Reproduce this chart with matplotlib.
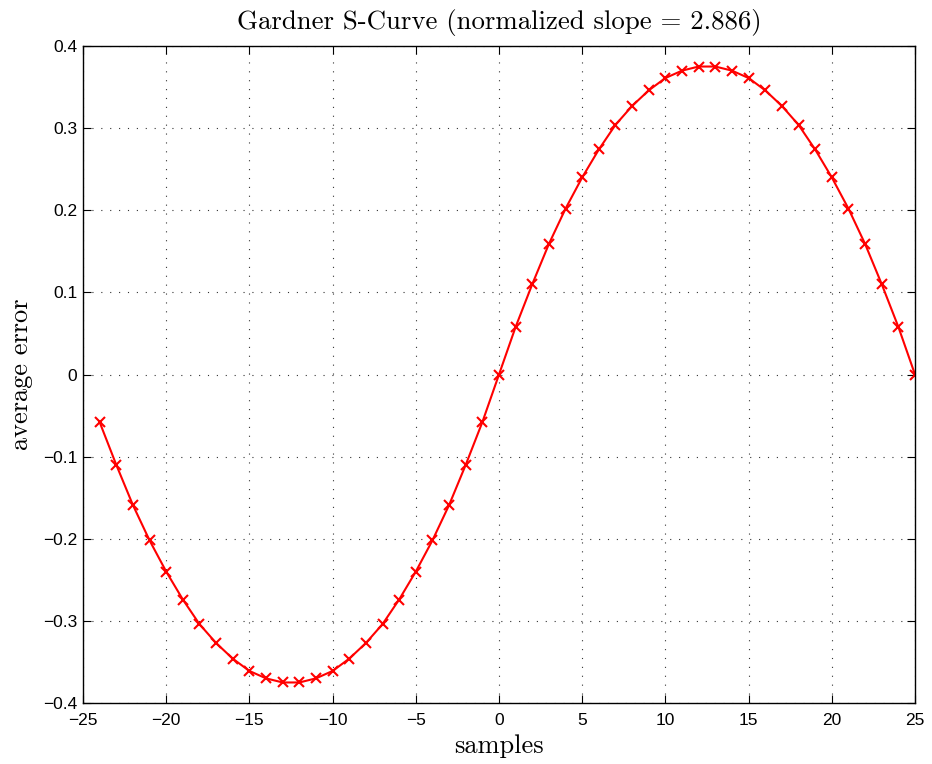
import matplotlib
matplotlib.use("Agg")
import matplotlib.pyplot as plt
import numpy as np

samples = list(range(-24, 26))
# values for x = -24 .. 25
avg_error = [-0.058, -0.110, -0.159, -0.202, -0.240, -0.274, -0.304, -0.327, -0.346, -0.361, -0.370, -0.375,
             -0.375, -0.370, -0.361, -0.346, -0.327, -0.304, -0.274, -0.240, -0.202, -0.159, -0.110, -0.058,
             0.0, 0.058, 0.110, 0.159, 0.202, 0.240, 0.274, 0.304, 0.327, 0.346, 0.361, 0.370, 0.375,
             0.375, 0.370, 0.361, 0.346, 0.327, 0.304, 0.274, 0.240, 0.202, 0.159, 0.110, 0.058, 0.0]
xticks = [-25, -20, -15, -10, -5, 0, 5, 10, 15, 20, 25]
yticks = [-0.4, -0.3, -0.2, -0.1, 0, 0.1, 0.2, 0.3, 0.4]
ytick_labels = ["\u22120.4", "\u22120.3", "\u22120.2", "\u22120.1", "0", "0.1", "0.2", "0.3", "0.4"]
xtick_labels = ["\u221225", "\u221220", "\u221215", "\u221210", "\u22125", "0", "5", "10", "15", "20", "25"]

fig = plt.figure(figsize=(9.32, 7.64), dpi=100)
ax = fig.add_axes([83/932, 1-703/764, (915-83)/932, (703-46)/764])
ax.plot(samples, avg_error, color="red", linewidth=1.5, marker="x", markersize=7, markeredgewidth=1.5)
ax.set_xlim(-25, 25)
ax.set_ylim(-0.4, 0.4)
ax.set_xticks(xticks)
ax.set_xticklabels(xtick_labels, family="Liberation Sans", fontsize=12.5)
ax.set_yticks(yticks)
ax.set_yticklabels(ytick_labels, family="Liberation Sans", fontsize=12.5)
ax.tick_params(direction="in", top=True, right=True, length=6, width=0.8, pad=4)
ax.tick_params(axis="x", pad=7)
ax.grid(True, linestyle=(0, (1, 7)), color="#333333", linewidth=0.8)
for s in ax.spines.values():
    s.set_linewidth(1.0)
ax.set_title("Gardner S-Curve (normalized slope = 2.886)", family="cmr10", fontsize=19.3, pad=12)
ax.set_xlabel("samples", family="cmr10", fontsize=19, labelpad=5)
ax.set_ylabel("average error", family="cmr10", fontsize=19, labelpad=7)
fig.savefig("out.png", dpi=100)
